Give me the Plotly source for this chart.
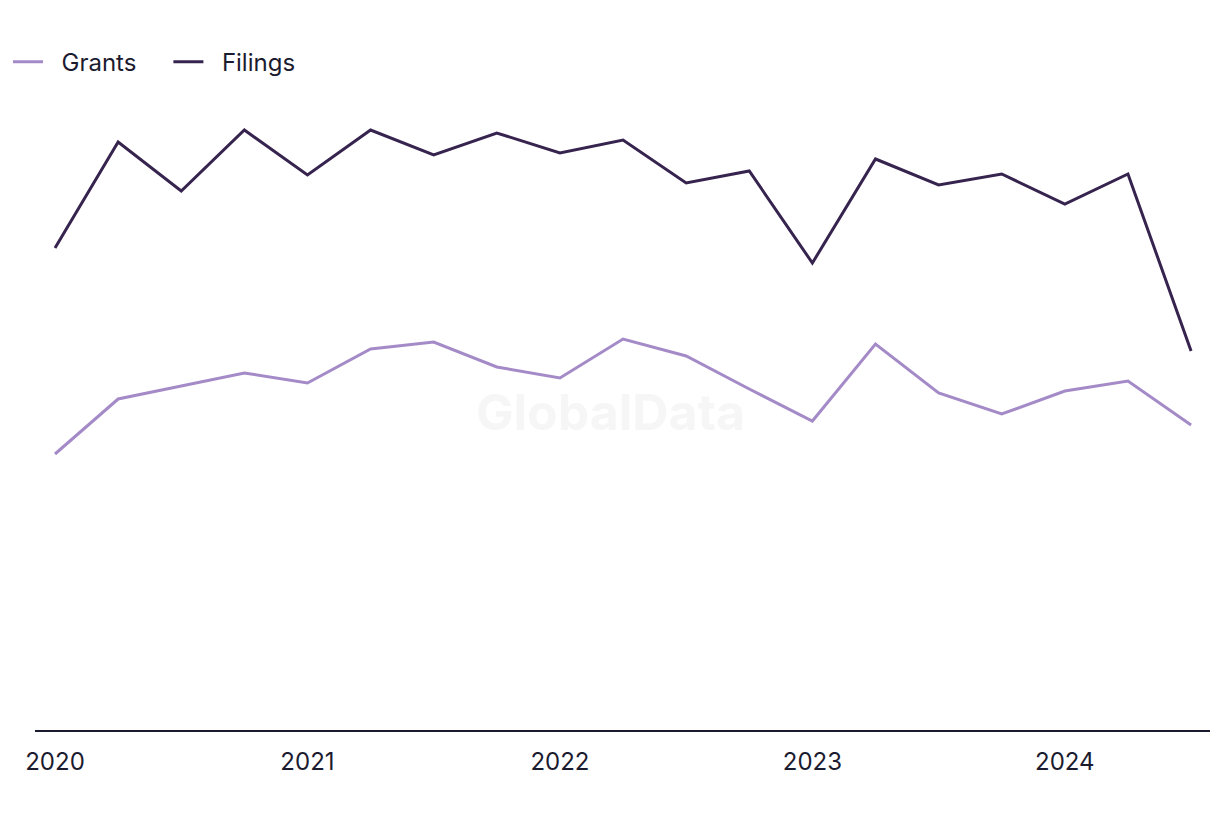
import plotly.graph_objects as go

quarters = ["Q1 2020", "Q2 2020", "Q3 2020", "Q4 2020",
            "Q1 2021", "Q2 2021", "Q3 2021", "Q4 2021",
            "Q1 2022", "Q2 2022", "Q3 2022", "Q4 2022",
            "Q1 2023", "Q2 2023", "Q3 2023", "Q4 2023",
            "Q1 2024", "Q2 2024", "Q3 2024"]
filings = [482, 588, 539, 600, 555, 600, 575, 597, 577, 590, 547, 559,
           467, 571, 545, 556, 526, 556, 379]
grants = [276, 331, 344, 357, 347, 381, 388, 363, 352, 391, 374, 341,
          309, 386, 337, 316, 339, 349, 305]
tick_labels = ["2020", "2021", "2022", "2023", "2024"]

x_idx = list(range(len(quarters)))
tick_pos = [quarters.index("Q1 " + y) for y in tick_labels]

text_color = "#1b1b2f"
font_family = "Inter, 'Open Sans', Arial, sans-serif"
NB = "\u00a0"

fig = go.Figure()
fig.add_trace(go.Scatter(x=x_idx, y=grants, mode="lines", name=NB * 2 + "Grants" + NB * 4,
                         line=dict(color="#a48bc8", width=3),
                         text=quarters, hovertemplate="%{text}: %{y}<extra>Grants</extra>"))
fig.add_trace(go.Scatter(x=x_idx, y=filings, mode="lines", name=NB * 2 + "Filings",
                         line=dict(color="#36244f", width=3),
                         text=quarters, hovertemplate="%{text}: %{y}<extra>Filings</extra>"))

fig.add_annotation(text="<b>GlobalData</b>", x=0.49, y=0.505, xref="paper", yref="paper",
                   showarrow=False, font=dict(size=50, color="#f6f6f6", family=font_family))

fig.update_layout(
    width=1220, height=820,
    margin=dict(l=27, r=18, t=92, b=98),
    paper_bgcolor="white", plot_bgcolor="white",
    font=dict(family=font_family, color=text_color, size=24),
    showlegend=True,
    legend=dict(orientation="h", xref="container", yref="container",
                x=-0.005, y=0.934, xanchor="left", yanchor="middle",
                font=dict(size=24, color=text_color), itemwidth=30,
                bgcolor="rgba(0,0,0,0)"),
    xaxis=dict(range=[-0.317, 18.30], tickvals=tick_pos, ticktext=tick_labels,
               showgrid=False, zeroline=False, showline=True, linecolor=text_color,
               linewidth=2, ticks="", ticklabelstandoff=9,
               tickfont=dict(size=24, color=text_color)),
    yaxis=dict(range=[0, 630], visible=False, showgrid=False, zeroline=False),
)

fig.write_html("out.html")
